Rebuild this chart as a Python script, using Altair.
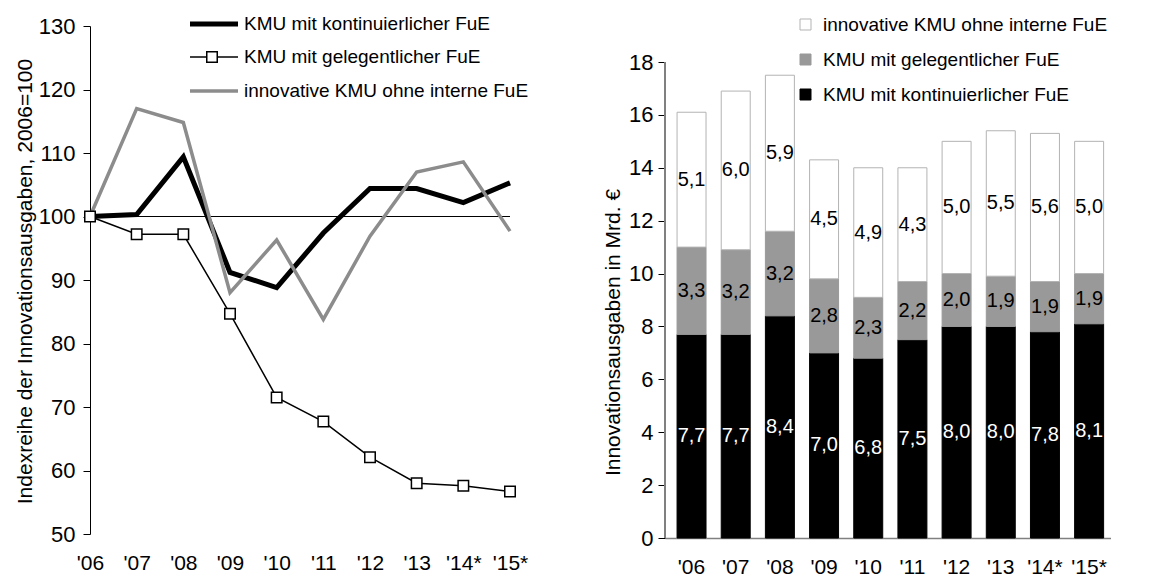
import altair as alt
import pandas as pd

FONT = "Liberation Sans"

years = ["'06", "'07", "'08", "'09", "'10", "'11", "'12", "'13", "'14*", "'15*"]

S_KONT = "KMU mit kontinuierlicher FuE"
S_GELEG = "KMU mit gelegentlicher FuE"
S_OHNE = "innovative KMU ohne interne FuE"
line_series = [S_KONT, S_GELEG, S_OHNE]

# left panel: index series (2006 = 100)
idx_kont = [100, 100.3, 109.4, 91.2, 88.8, 97.4, 104.4, 104.4, 102.2, 105.3]
idx_geleg = [100, 97.2, 97.2, 84.7, 71.5, 67.7, 62.1, 58.0, 57.6, 56.7]
idx_ohne = [100, 117.0, 114.8, 88.0, 96.3, 83.8, 96.9, 107.0, 108.6, 97.7]
base_index = [100]

# right panel: innovation expenditure in bn EUR
bar_kont = [7.7, 7.7, 8.4, 7.0, 6.8, 7.5, 8.0, 8.0, 7.8, 8.1]
bar_geleg = [3.3, 3.2, 3.2, 2.8, 2.3, 2.2, 2.0, 1.9, 1.9, 1.9]
bar_ohne = [5.1, 6.0, 5.9, 4.5, 4.9, 4.3, 5.0, 5.5, 5.6, 5.0]
bar_axis_extent = [0, 18]

LINE_COL = {S_KONT: "#000000", S_GELEG: "#000000", S_OHNE: "#8c8c8c"}
LINE_W = {S_KONT: 5, S_GELEG: 1.5, S_OHNE: 3.5}

LEFT_W, LEFT_H = 420, 508
RIGHT_W, RIGHT_H = 446, 512
SPACING = 155

# ---------------- left chart ----------------
rows = []
for s, vals in zip(line_series, [idx_kont, idx_geleg, idx_ohne]):
    for y, v in zip(years, vals):
        rows.append({"year": y, "series": s, "value": v})
line_df = pd.DataFrame(rows)

x_left = alt.X(
    "year:N", sort=years,
    scale=alt.Scale(type="point", padding=0),
    axis=alt.Axis(title=None, domain=False, ticks=False, tickSize=0, labelPadding=29,
                  labelBaseline="middle", labelAngle=0, labelFontSize=21),
)
y_left = alt.Y(
    "value:Q",
    scale=alt.Scale(domain=[50, 130], nice=False, zero=False),
    axis=alt.Axis(values=list(range(50, 131, 10)), title="Indexreihe der Innovationsausgaben, 2006=100",
                  titleX=-65, titleY=255, titleBaseline="middle", tickSize=7, labelPadding=8,
                  domainColor="black", tickColor="black", grid=False),
)

ref_rule = alt.Chart(pd.DataFrame({"v": base_index})).mark_rule(color="black", strokeWidth=1).encode(
    y=alt.Y("v:Q"))

line_layers = []
for s in [S_KONT, S_GELEG, S_OHNE]:
    line_layers.append(
        alt.Chart(line_df).transform_filter(alt.datum.series == s).mark_line(
            color=LINE_COL[s], strokeWidth=LINE_W[s]).encode(x=x_left, y=y_left)
    )

squares = alt.Chart(line_df).transform_filter(
    alt.datum.series == S_GELEG
).mark_square(fill="white", stroke="black", strokeWidth=1.5, size=110, opacity=1).encode(
    x=alt.X("year:N", sort=years), y="value:Q")

# manual legend (left)
leg_y = [-2, 31, 65]
leg_parts = []
for s, yy in zip(line_series, leg_y):
    one = pd.DataFrame({"t": [s]})
    leg_parts.append(alt.Chart(one).mark_rule(color=LINE_COL[s], strokeWidth=LINE_W[s]).encode(
        x=alt.value(100), x2=alt.value(148), y=alt.value(yy)))
    leg_parts.append(alt.Chart(one).mark_text(align="left", baseline="middle", fontSize=19, font=FONT,
                                              color="black").encode(
        text="t:N", x=alt.value(154), y=alt.value(yy)))
leg_parts.append(alt.Chart(pd.DataFrame({"t": [S_GELEG]})).mark_square(
    fill="white", stroke="black", strokeWidth=1.5, size=110, opacity=1).encode(
    x=alt.value(122), y=alt.value(leg_y[1])))

left = alt.layer(ref_rule, *line_layers, squares, *leg_parts).properties(width=LEFT_W, height=LEFT_H)

# ---------------- right chart ----------------
bar_series = [S_OHNE, S_GELEG, S_KONT]
order_map = {S_KONT: 0, S_GELEG: 1, S_OHNE: 2}
brows = []
for s, vals in zip([S_KONT, S_GELEG, S_OHNE], [bar_kont, bar_geleg, bar_ohne]):
    for y, v in zip(years, vals):
        brows.append({"year": y, "series": s, "value": v, "ord": order_map[s],
                      "tc": "white" if s == S_KONT else "black"})
bar_df = pd.DataFrame(brows)

x_right = alt.X(
    "year:N", sort=years,
    scale=alt.Scale(paddingInner=0.344, paddingOuter=0.22, align=0.62),
    axis=alt.Axis(title=None, ticks=False, tickSize=0, labelPadding=29, labelBaseline="middle",
                  labelAngle=0, labelFontSize=21, domainColor="#808080", domainWidth=1.5),
)
y_right = alt.Y(
    "value:Q", stack="zero",
    scale=alt.Scale(domain=[0, 18 * RIGHT_H / 476], nice=False),
    axis=alt.Axis(values=list(range(0, 19, 2)), title="Innovationsausgaben in Mrd. €",
                  titleX=-52, titleY=306, titleBaseline="middle", domain=False, tickSize=7,
                  labelPadding=5, tickColor="black", grid=False),
)

# legends of a concat are placed relative to the first panel's plot origin
legend_props = dict(orient="none", legendX=LEFT_W + SPACING + 131, legendY=-11, title=None,
                    symbolType="square", symbolSize=121, labelFontSize=19, labelFont=FONT,
                    labelColor="black", rowPadding=15, labelOffset=8, symbolStrokeWidth=1,
                    labelLimit=0)

bars = alt.Chart(bar_df).mark_bar(strokeWidth=1).encode(
    x=x_right, y=y_right,
    fill=alt.Fill("series:N", scale=alt.Scale(domain=bar_series, range=["#ffffff", "#999999", "#000000"]),
                  legend=alt.Legend(**legend_props)),
    stroke=alt.Stroke("series:N", scale=alt.Scale(domain=bar_series, range=["#b3b3b3", "#999999", "#000000"]),
                      legend=alt.Legend(**legend_props)),
    order=alt.Order("ord:Q", sort="ascending"),
)

bar_labels = alt.Chart(bar_df).transform_stack(
    stack="value", groupby=["year"], as_=["y0", "y1"], sort=[alt.SortField("ord", order="ascending")]
).transform_calculate(
    mid="(datum.y0 + datum.y1) / 2",
    label="replace(format(datum.value, '.1f'), '.', ',')",
).mark_text(fontSize=20, font=FONT, baseline="middle", align="center").encode(
    x=alt.X("year:N", sort=years),
    y=alt.Y("mid:Q"),
    text="label:N",
    color=alt.Color("tc:N", scale=None),
)

axis_line = alt.Chart(pd.DataFrame({"a": [bar_axis_extent[0]], "b": [bar_axis_extent[1]]})).mark_rule(
    color="#808080", strokeWidth=2).encode(x=alt.value(0), y="a:Q", y2="b:Q")

right = alt.layer(bars, bar_labels, axis_line).properties(width=RIGHT_W, height=RIGHT_H)

chart = alt.hconcat(left, right, spacing=SPACING, bounds="flush").properties(
    padding={"left": 5, "top": 7, "right": 0, "bottom": 0}
).configure_view(stroke=None).configure_axis(
    labelFont=FONT, labelFontSize=22, labelColor="black",
    titleFont=FONT, titleFontSize=21, titleFontWeight="normal", titleColor="black",
).configure_text(font=FONT)

chart.save("out.html", embed_options={"renderer": "svg", "actions": False})
